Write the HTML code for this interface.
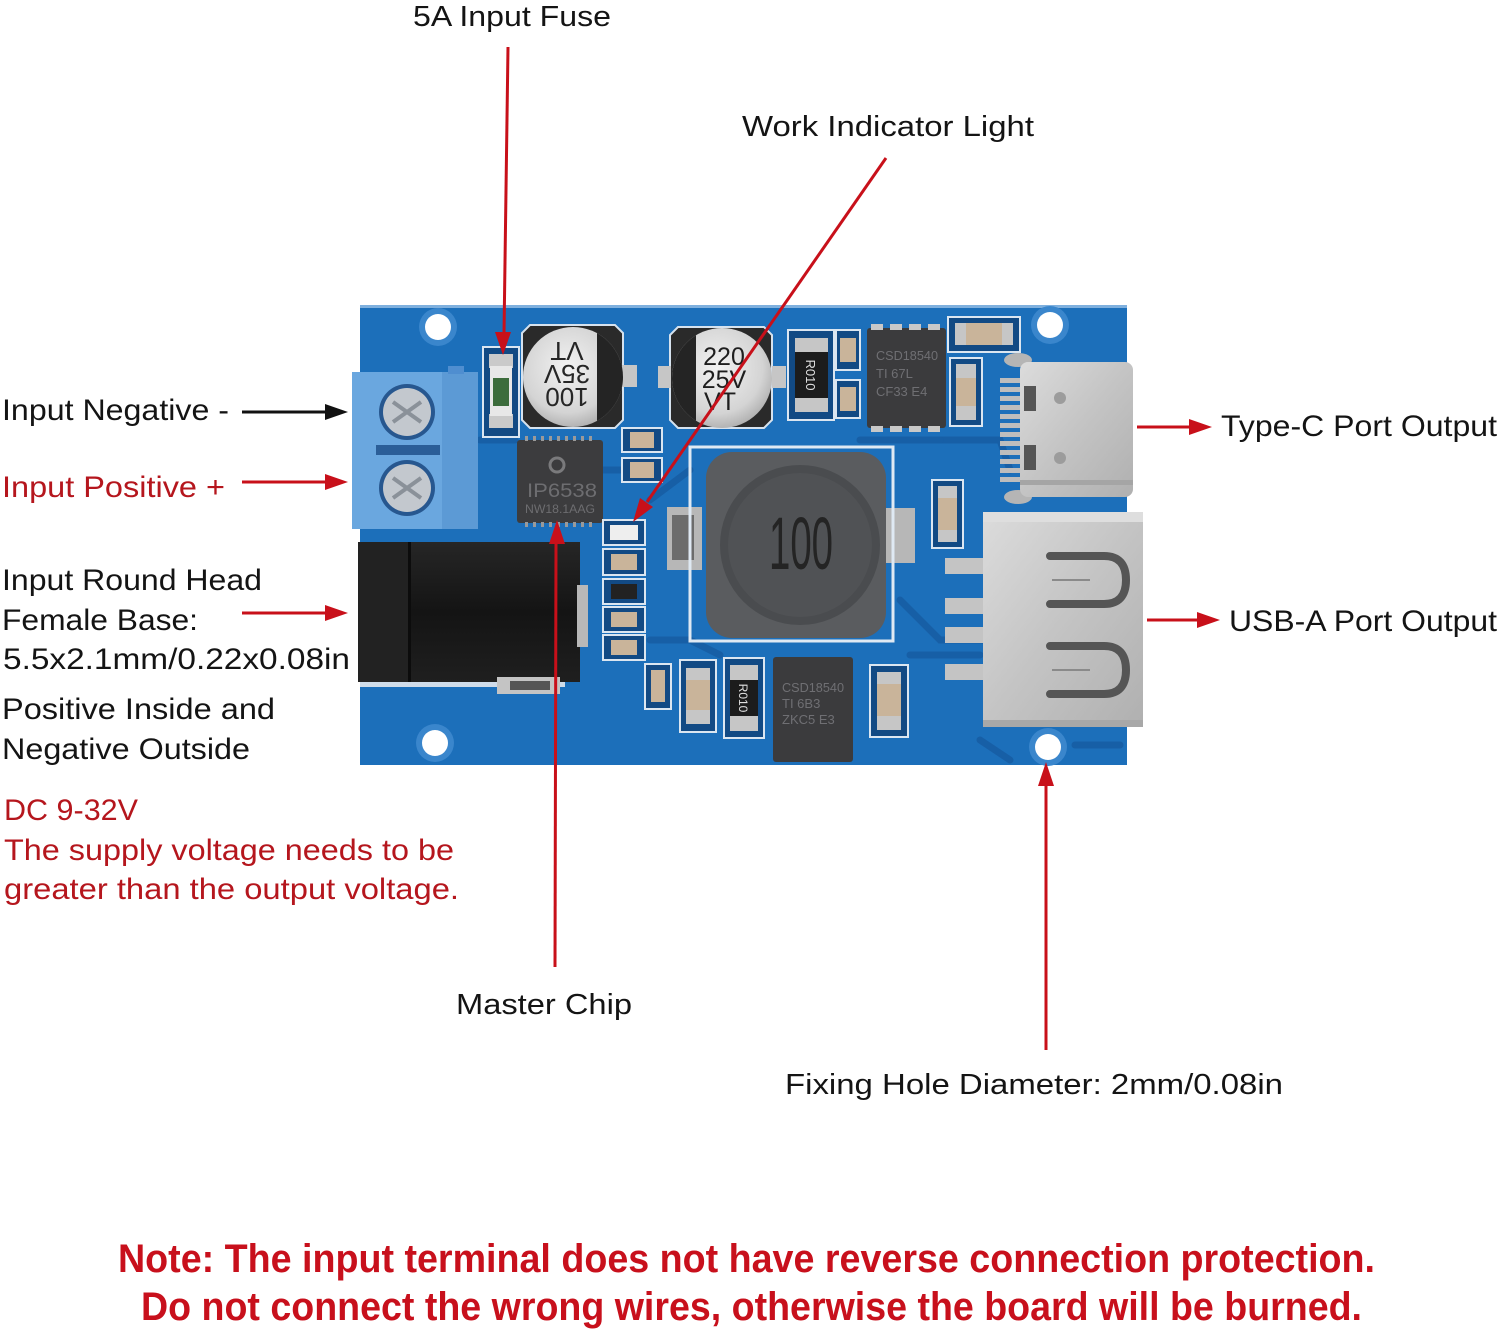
<!DOCTYPE html>
<html><head><meta charset="utf-8"><style>
html,body{margin:0;padding:0;background:#fff;}
svg{display:block;}
text{font-family:"Liberation Sans",Arial,sans-serif;}
</style></head><body>
<svg width="1500" height="1335" viewBox="0 0 1500 1335" xmlns="http://www.w3.org/2000/svg">
<defs>
<radialGradient id="silver" cx="45%" cy="40%" r="65%"><stop offset="0" stop-color="#f2f2f2"/><stop offset="0.7" stop-color="#d4d4d4"/><stop offset="1" stop-color="#a9a9a9"/></radialGradient>
<linearGradient id="metal" x1="0" y1="0" x2="1" y2="1"><stop offset="0" stop-color="#dcdcdc"/><stop offset="0.5" stop-color="#c4c4c4"/><stop offset="1" stop-color="#b0b0b0"/></linearGradient>
<linearGradient id="jack" x1="0" y1="0" x2="0" y2="1"><stop offset="0" stop-color="#262626"/><stop offset="0.5" stop-color="#141414"/><stop offset="1" stop-color="#1f1f1f"/></linearGradient>
<clipPath id="c100"><circle cx="573" cy="377" r="50"/></clipPath>
<clipPath id="c220"><circle cx="722" cy="378" r="50"/></clipPath>
</defs>

<!-- ============ BOARD ============ -->
<rect x="360" y="305" width="767" height="460" fill="#1c6fba"/>
<rect x="360" y="305" width="767" height="3" fill="#7fb0de"/>
<!-- traces -->
<g stroke="#175fa6" stroke-width="7" fill="none" stroke-linecap="round">
<path d="M480 440 L515 440"/><path d="M600 470 L625 470"/><path d="M650 500 L690 470"/>
<path d="M940 440 L1000 440 L1010 470"/><path d="M900 600 L940 640 L990 640"/>
<path d="M650 640 L690 640 L720 655"/><path d="M910 655 L980 655"/><path d="M860 440 L940 440"/>
<path d="M1075 745 L1120 745"/><path d="M980 740 L1010 760"/>
</g>
<!-- hole rings -->
<g fill="#3a86cc"><circle cx="438" cy="327" r="19"/><circle cx="1050" cy="325" r="19"/><circle cx="435" cy="743" r="19"/><circle cx="1048" cy="747" r="19"/></g>
<g fill="#fff"><circle cx="438" cy="327" r="13"/><circle cx="1050" cy="325" r="13"/><circle cx="435" cy="743" r="13"/><circle cx="1048" cy="747" r="13"/></g>

<!-- terminal block -->
<rect x="352" y="372" width="126" height="157" fill="#6aa7df"/>
<rect x="442" y="372" width="36" height="157" fill="#5c9ad5"/>
<rect x="448" y="366" width="16" height="8" fill="#4f8ed0"/>
<rect x="376" y="445" width="64" height="10" fill="#2b5e98"/>
<circle cx="407" cy="412" r="28" fill="#27578f"/><circle cx="407" cy="412" r="24" fill="#c3c8ce"/>
<circle cx="407" cy="488" r="28" fill="#27578f"/><circle cx="407" cy="488" r="24" fill="#c3c8ce"/>
<g stroke="#8a9199" stroke-width="4"><path d="M393 402 L421 422 M421 402 L393 422"/><path d="M393 478 L421 498 M421 478 L393 498"/></g>

<!-- DC jack -->
<rect x="358" y="542" width="222" height="140" fill="url(#jack)"/>
<rect x="358" y="542" width="50" height="140" fill="#222"/>
<rect x="408" y="542" width="3" height="140" fill="#0c0c0c"/>
<rect x="577" y="585" width="11" height="62" fill="#b8b8b8"/>
<rect x="360" y="682" width="205" height="5" fill="#cfdcea"/>
<rect x="497" y="677" width="63" height="17" fill="#c4c4c4"/>
<rect x="510" y="681" width="40" height="9" fill="#555"/>

<!-- fuse -->
<rect x="483" y="347" width="36" height="90" fill="#124a84" stroke="#dbe6f1" stroke-width="2"/>
<rect x="489" y="354" width="24" height="14" fill="#cacaca"/>
<rect x="489" y="414" width="24" height="14" fill="#cacaca"/>
<rect x="490" y="366" width="22" height="50" fill="#e8e8e8"/>
<rect x="493" y="378" width="16" height="28" fill="#3c6c3c"/>

<!-- cap 100 -->
<path d="M530 325 L615 325 L623 333 L623 420 L615 428 L530 428 L522 420 L522 333 Z" fill="#2a2a2a" stroke="#d6e2ee" stroke-width="2"/>
<rect x="622" y="365" width="15" height="22" fill="#c6c6c6"/>
<circle cx="573" cy="377" r="50" fill="url(#silver)"/>
<rect x="597" y="320" width="30" height="115" fill="#242424" clip-path="url(#c100)"/>
<g transform="rotate(180 567 377)" fill="#262626" font-size="26" text-anchor="middle">
<text x="567" y="366">100</text><text x="567" y="389">35V</text><text x="567" y="412">VT</text></g>

<!-- cap 220 -->
<path d="M678 327 L764 327 L772 335 L772 420 L764 428 L678 428 L670 420 L670 335 Z" fill="#2a2a2a" stroke="#d6e2ee" stroke-width="2"/>
<rect x="658" y="366" width="13" height="22" fill="#c6c6c6"/>
<rect x="772" y="366" width="14" height="22" fill="#c6c6c6"/>
<circle cx="722" cy="378" r="50" fill="url(#silver)"/>
<rect x="668" y="320" width="28" height="115" fill="#242424" clip-path="url(#c220)"/>
<g fill="#1e1e1e" font-size="25" text-anchor="middle">
<text x="724" y="365">220</text><text x="724" y="388">25V</text><text x="720" y="410">VT</text></g>

<!-- small caps near chip -->
<g stroke="#dbe6f1" stroke-width="2" fill="#124a84">
<rect x="622" y="428" width="40" height="24"/><rect x="622" y="458" width="40" height="24"/></g>
<g fill="#c9b49a"><rect x="630" y="432" width="24" height="16"/><rect x="630" y="462" width="24" height="16"/></g>

<!-- master chip -->
<rect x="517" y="440" width="86" height="83" rx="3" fill="#3c3c3e"/>
<g fill="#9a9a9a">
<rect x="525" y="436" width="3" height="5"/><rect x="533" y="436" width="3" height="5"/><rect x="541" y="436" width="3" height="5"/><rect x="549" y="436" width="3" height="5"/><rect x="557" y="436" width="3" height="5"/><rect x="565" y="436" width="3" height="5"/><rect x="573" y="436" width="3" height="5"/><rect x="581" y="436" width="3" height="5"/><rect x="589" y="436" width="3" height="5"/>
<rect x="525" y="522" width="3" height="5"/><rect x="533" y="522" width="3" height="5"/><rect x="541" y="522" width="3" height="5"/><rect x="549" y="522" width="3" height="5"/><rect x="557" y="522" width="3" height="5"/><rect x="565" y="522" width="3" height="5"/><rect x="573" y="522" width="3" height="5"/><rect x="581" y="522" width="3" height="5"/><rect x="589" y="522" width="3" height="5"/>
</g>
<circle cx="557" cy="465" r="7" fill="none" stroke="#7a7a7c" stroke-width="3"/>
<text x="527" y="497" font-size="19" fill="#6d6d70" textLength="70" lengthAdjust="spacingAndGlyphs">IP6538</text>
<text x="525" y="513" font-size="12" fill="#6d6d70" textLength="70" lengthAdjust="spacingAndGlyphs">NW18.1AAG</text>

<!-- small column -->
<g stroke="#dbe6f1" stroke-width="2" fill="#124a84">
<rect x="603" y="520" width="42" height="25"/><rect x="603" y="549" width="42" height="26"/><rect x="603" y="579" width="42" height="25"/><rect x="603" y="607" width="42" height="25"/><rect x="603" y="635" width="42" height="25"/></g>
<rect x="610" y="525" width="28" height="15" fill="#eeeeee"/>
<rect x="611" y="554" width="26" height="16" fill="#c9b49a"/>
<rect x="611" y="584" width="26" height="15" fill="#222"/>
<rect x="611" y="612" width="26" height="15" fill="#c9b49a"/>
<rect x="611" y="640" width="26" height="15" fill="#c9b49a"/>

<!-- inductor -->
<rect x="667" y="507" width="35" height="63" fill="#b7b7b7"/><rect x="672" y="515" width="22" height="45" fill="#3a3a3a" opacity="0.6"/>
<rect x="885" y="508" width="30" height="55" fill="#b7b7b7"/>
<rect x="690" y="447" width="203" height="194" fill="none" stroke="#dfe9f3" stroke-width="3"/>
<rect x="706" y="452" width="180" height="186" rx="26" fill="#5a5c5f"/>
<circle cx="800" cy="545" r="80" fill="#4a4c4f"/>
<circle cx="800" cy="545" r="72" fill="#505255"/>
<text x="769" y="569" font-size="74" fill="#242424" textLength="64" lengthAdjust="spacingAndGlyphs">100</text>

<!-- top right group -->
<rect x="788" y="330" width="46" height="90" fill="#124a84" stroke="#dbe6f1" stroke-width="2"/>
<rect x="795" y="338" width="33" height="16" fill="#c6c6c6"/><rect x="795" y="396" width="33" height="16" fill="#c6c6c6"/>
<rect x="795" y="352" width="33" height="46" fill="#1c1c1c"/>
<text transform="rotate(90 811 375)" x="811" y="380" font-size="13" fill="#e0e0e0" text-anchor="middle">R010</text>
<g stroke="#dbe6f1" stroke-width="2" fill="#124a84"><rect x="836" y="330" width="24" height="40"/><rect x="836" y="380" width="24" height="38"/></g>
<g fill="#c9b49a"><rect x="840" y="338" width="16" height="24"/><rect x="840" y="387" width="16" height="24"/></g>
<rect x="867" y="328" width="79" height="100" rx="3" fill="#3b3b3d"/>
<g fill="#c8c8c8"><rect x="871" y="324" width="12" height="6"/><rect x="890" y="324" width="12" height="6"/><rect x="909" y="324" width="12" height="6"/><rect x="928" y="324" width="12" height="6"/>
<rect x="871" y="426" width="12" height="6"/><rect x="890" y="426" width="12" height="6"/><rect x="909" y="426" width="12" height="6"/><rect x="928" y="426" width="12" height="6"/></g>
<g fill="#6f6f73" font-size="13"><text x="876" y="360" textLength="62" lengthAdjust="spacingAndGlyphs">CSD18540</text><text x="876" y="378">TI 67L</text><text x="876" y="396">CF33 E4</text></g>
<rect x="948" y="317" width="72" height="35" fill="#124a84" stroke="#dbe6f1" stroke-width="2"/>
<rect x="955" y="323" width="58" height="22" fill="#c6c6c6"/><rect x="966" y="323" width="36" height="22" fill="#c9b49a"/>
<rect x="950" y="358" width="32" height="68" fill="#124a84" stroke="#dbe6f1" stroke-width="2"/>
<rect x="956" y="364" width="20" height="56" fill="#c6c6c6"/><rect x="956" y="378" width="20" height="28" fill="#c9b49a"/>

<!-- Type-C -->
<g fill="#bdbdbd"><rect x="1000" y="378" width="22" height="5"/><rect x="1000" y="387" width="22" height="5"/><rect x="1000" y="396" width="22" height="5"/><rect x="1000" y="405" width="22" height="5"/><rect x="1000" y="414" width="22" height="5"/><rect x="1000" y="423" width="22" height="5"/><rect x="1000" y="432" width="22" height="5"/><rect x="1000" y="441" width="22" height="5"/><rect x="1000" y="450" width="22" height="5"/><rect x="1000" y="459" width="22" height="5"/><rect x="1000" y="468" width="22" height="5"/><rect x="1000" y="477" width="22" height="5"/></g>
<ellipse cx="1018" cy="360" rx="14" ry="7" fill="#b5b5b5"/><ellipse cx="1018" cy="497" rx="14" ry="7" fill="#b5b5b5"/>
<rect x="1020" y="362" width="113" height="135" rx="8" fill="url(#metal)"/>
<rect x="1024" y="386" width="12" height="25" fill="#555"/><rect x="1024" y="445" width="12" height="25" fill="#555"/>
<circle cx="1060" cy="398" r="6" fill="#9c9c9c"/><circle cx="1060" cy="458" r="6" fill="#9c9c9c"/>
<rect x="1020" y="480" width="113" height="5" fill="#a5a5a5"/>

<!-- cap near USB-A -->
<rect x="932" y="480" width="31" height="68" fill="#124a84" stroke="#dbe6f1" stroke-width="2"/>
<rect x="938" y="486" width="19" height="56" fill="#c6c6c6"/><rect x="938" y="498" width="19" height="32" fill="#c9b49a"/>

<!-- USB-A -->
<g fill="#c4c4c4"><rect x="945" y="558" width="40" height="16"/><rect x="945" y="598" width="40" height="16"/><rect x="945" y="627" width="40" height="16"/><rect x="945" y="664" width="40" height="16"/></g>
<rect x="983" y="512" width="160" height="215" fill="url(#metal)"/>
<rect x="983" y="512" width="160" height="10" fill="#dedede"/>
<rect x="983" y="720" width="160" height="7" fill="#a8a8a8"/>
<g fill="none" stroke="#555" stroke-width="8" stroke-linecap="round">
<path d="M1050 556 L1104 556 Q1126 556 1126 580 Q1126 604 1104 604 L1050 604"/>
<path d="M1050 646 L1104 646 Q1126 646 1126 670 Q1126 694 1104 694 L1050 694"/></g>
<g stroke="#8a8a8a" stroke-width="2"><path d="M1052 580 L1090 580"/><path d="M1052 670 L1090 670"/></g>

<!-- bottom group -->
<rect x="645" y="664" width="26" height="45" fill="#124a84" stroke="#dbe6f1" stroke-width="2"/>
<rect x="651" y="670" width="14" height="32" fill="#c9b49a"/>
<rect x="680" y="660" width="36" height="72" fill="#124a84" stroke="#dbe6f1" stroke-width="2"/>
<rect x="686" y="668" width="24" height="56" fill="#c6c6c6"/><rect x="686" y="680" width="24" height="30" fill="#c9b49a"/>
<rect x="724" y="658" width="40" height="80" fill="#124a84" stroke="#dbe6f1" stroke-width="2"/>
<rect x="730" y="665" width="28" height="66" fill="#c6c6c6"/><rect x="730" y="680" width="28" height="36" fill="#1c1c1c"/>
<text transform="rotate(90 744 698)" x="744" y="703" font-size="12" fill="#e0e0e0" text-anchor="middle">R010</text>
<rect x="773" y="657" width="80" height="105" rx="3" fill="#3b3b3d"/>
<g fill="#6f6f73" font-size="13"><text x="782" y="692" textLength="62" lengthAdjust="spacingAndGlyphs">CSD18540</text><text x="782" y="708">TI 6B3</text><text x="782" y="724">ZKC5 E3</text></g>
<rect x="870" y="665" width="38" height="72" fill="#124a84" stroke="#dbe6f1" stroke-width="2"/>
<rect x="877" y="672" width="24" height="58" fill="#c6c6c6"/><rect x="877" y="684" width="24" height="32" fill="#c9b49a"/>

<!-- ============ CONNECTORS ============ -->
<g stroke="#c8101a" stroke-width="3" fill="none">
<path d="M508 47 L504 334"/>
<path d="M886 158 L647 502"/>
<path d="M555 967 L556 542"/>
<path d="M1046 1050 L1046 784"/>
<path d="M242 482 L328 482"/>
<path d="M242 613 L328 613"/>
<path d="M1137 427 L1192 427"/>
<path d="M1147 620 L1200 620"/>
</g>
<g fill="#c8101a">
<polygon points="503,355 495,332 511,332"/>
<polygon points="633,522 653,507 640,498"/>
<polygon points="557,520 549,544 565,544"/>
<polygon points="1046,762 1038,786 1054,786"/>
<polygon points="348,482 325,474 325,490"/>
<polygon points="348,613 325,605 325,621"/>
<polygon points="1212,427 1189,419 1189,435"/>
<polygon points="1220,620 1197,612 1197,628"/>
</g>
<path d="M242 412 L328 412" stroke="#111" stroke-width="3"/>
<polygon points="348,412 325,404 325,420" fill="#111"/>

<!-- ============ LABELS ============ -->
<g font-size="29" fill="#141414">
<text x="413" y="26" textLength="198" lengthAdjust="spacingAndGlyphs">5A Input Fuse</text>
<text x="742" y="136" textLength="292" lengthAdjust="spacingAndGlyphs">Work Indicator Light</text>
<text x="456" y="1014" textLength="176" lengthAdjust="spacingAndGlyphs">Master Chip</text>
<text x="785" y="1094" textLength="498" lengthAdjust="spacingAndGlyphs">Fixing Hole Diameter: 2mm/0.08in</text>
</g>
<g font-size="30" fill="#141414">
<text x="2" y="420" textLength="227" lengthAdjust="spacingAndGlyphs">Input Negative -</text>
<text x="2" y="590" textLength="260" lengthAdjust="spacingAndGlyphs">Input Round Head</text>
<text x="2" y="630" textLength="196" lengthAdjust="spacingAndGlyphs">Female Base:</text>
<text x="3" y="669" textLength="347" lengthAdjust="spacingAndGlyphs">5.5x2.1mm/0.22x0.08in</text>
<text x="2" y="719" textLength="273" lengthAdjust="spacingAndGlyphs">Positive Inside and</text>
<text x="2" y="759" textLength="248" lengthAdjust="spacingAndGlyphs">Negative Outside</text>
<text x="1221" y="436" textLength="276" lengthAdjust="spacingAndGlyphs">Type-C Port Output</text>
<text x="1229" y="631" textLength="268" lengthAdjust="spacingAndGlyphs">USB-A Port Output</text>
</g>
<g font-size="30" fill="#b5161d">
<text x="2" y="497" textLength="223" lengthAdjust="spacingAndGlyphs">Input Positive +</text>
<text x="4" y="820" textLength="134" lengthAdjust="spacingAndGlyphs">DC 9-32V</text>
<text x="4" y="860" textLength="450" lengthAdjust="spacingAndGlyphs">The supply voltage needs to be</text>
<text x="4" y="899" textLength="455" lengthAdjust="spacingAndGlyphs">greater than the output voltage.</text>
</g>
<g font-size="40" font-weight="bold" fill="#c8101c">
<text x="118" y="1272" textLength="1257" lengthAdjust="spacingAndGlyphs">Note: The input terminal does not have reverse connection protection.</text>
<text x="141" y="1320" textLength="1221" lengthAdjust="spacingAndGlyphs">Do not connect the wrong wires, otherwise the board will be burned.</text>
</g>
</svg>
</body></html>
